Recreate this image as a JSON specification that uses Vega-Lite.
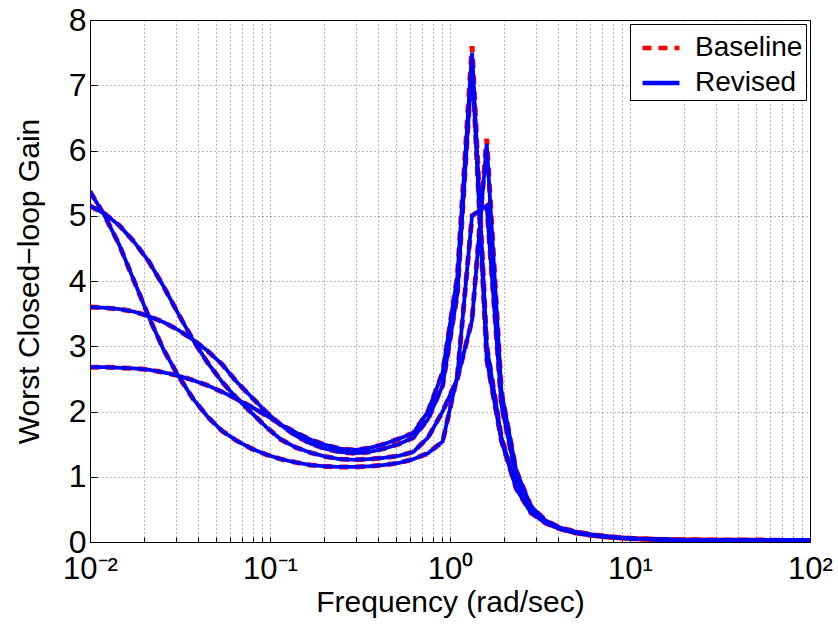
{
"$schema":"https://vega.github.io/schema/vega-lite/v6.json",
"width":720,"height":522,
"autosize":{"type":"none"},
"padding":{"left":90,"top":20,"right":28,"bottom":83},
"background":"white",
"config":{"view":{"stroke":"#000","strokeWidth":1},"font":"Liberation Sans","legend":{"strokeWidth":1}},
"data":{"values":[
{"series":"Baseline","curve":"A","f":0.01,"gain":5.37},{"series":"Baseline","curve":"A","f":0.01207,"gain":5.0},{"series":"Baseline","curve":"A","f":0.01456,"gain":4.55},{"series":"Baseline","curve":"A","f":0.01758,"gain":4.0},{"series":"Baseline","curve":"A","f":0.02121,"gain":3.45},{"series":"Baseline","curve":"A","f":0.0256,"gain":2.95},{"series":"Baseline","curve":"A","f":0.03089,"gain":2.55},{"series":"Baseline","curve":"A","f":0.03728,"gain":2.2},{"series":"Baseline","curve":"A","f":0.04498,"gain":1.92},{"series":"Baseline","curve":"A","f":0.05429,"gain":1.7},
{"series":"Baseline","curve":"A","f":0.06551,"gain":1.55},{"series":"Baseline","curve":"A","f":0.07906,"gain":1.43},{"series":"Baseline","curve":"A","f":0.09541,"gain":1.34},{"series":"Baseline","curve":"A","f":0.1151,"gain":1.27},{"series":"Baseline","curve":"A","f":0.1389,"gain":1.22},{"series":"Baseline","curve":"A","f":0.1677,"gain":1.18},{"series":"Baseline","curve":"A","f":0.2024,"gain":1.16},{"series":"Baseline","curve":"A","f":0.2442,"gain":1.15},{"series":"Baseline","curve":"A","f":0.2947,"gain":1.15},{"series":"Baseline","curve":"A","f":0.3556,"gain":1.16},
{"series":"Baseline","curve":"A","f":0.4292,"gain":1.18},{"series":"Baseline","curve":"A","f":0.5179,"gain":1.21},{"series":"Baseline","curve":"A","f":0.6251,"gain":1.27},{"series":"Baseline","curve":"A","f":0.7543,"gain":1.36},{"series":"Baseline","curve":"A","f":0.9103,"gain":1.54},{"series":"Baseline","curve":"A","f":1.0985,"gain":2.55},{"series":"Baseline","curve":"A","f":1.3257,"gain":5.0},{"series":"Baseline","curve":"A","f":1.5999,"gain":5.15},{"series":"Baseline","curve":"A","f":1.9307,"gain":2.1},{"series":"Baseline","curve":"A","f":2.33,"gain":1.0},
{"series":"Baseline","curve":"A","f":2.8118,"gain":0.5},{"series":"Baseline","curve":"A","f":3.3932,"gain":0.31},{"series":"Baseline","curve":"A","f":4.0949,"gain":0.21},{"series":"Baseline","curve":"A","f":4.9417,"gain":0.15},{"series":"Baseline","curve":"A","f":5.9636,"gain":0.11},{"series":"Baseline","curve":"A","f":7.1969,"gain":0.085},{"series":"Baseline","curve":"A","f":8.6851,"gain":0.065},{"series":"Baseline","curve":"A","f":10.481,"gain":0.05},{"series":"Baseline","curve":"A","f":12.649,"gain":0.042},{"series":"Baseline","curve":"A","f":15.264,"gain":0.037},
{"series":"Baseline","curve":"A","f":18.421,"gain":0.033},{"series":"Baseline","curve":"A","f":22.23,"gain":0.03},{"series":"Baseline","curve":"A","f":26.827,"gain":0.028},{"series":"Baseline","curve":"A","f":32.375,"gain":0.027},{"series":"Baseline","curve":"A","f":39.069,"gain":0.026},{"series":"Baseline","curve":"A","f":47.149,"gain":0.025},{"series":"Baseline","curve":"A","f":56.899,"gain":0.025},{"series":"Baseline","curve":"A","f":68.665,"gain":0.024},{"series":"Baseline","curve":"A","f":82.864,"gain":0.024},{"series":"Baseline","curve":"A","f":100,"gain":0.024},
{"series":"Baseline","curve":"B","f":0.01,"gain":5.15},{"series":"Baseline","curve":"B","f":0.01207,"gain":5.03},{"series":"Baseline","curve":"B","f":0.01456,"gain":4.85},{"series":"Baseline","curve":"B","f":0.01758,"gain":4.6},{"series":"Baseline","curve":"B","f":0.02121,"gain":4.3},{"series":"Baseline","curve":"B","f":0.0256,"gain":3.92},{"series":"Baseline","curve":"B","f":0.03089,"gain":3.5},{"series":"Baseline","curve":"B","f":0.03728,"gain":3.1},{"series":"Baseline","curve":"B","f":0.04498,"gain":2.75},{"series":"Baseline","curve":"B","f":0.05429,"gain":2.45},
{"series":"Baseline","curve":"B","f":0.06551,"gain":2.2},{"series":"Baseline","curve":"B","f":0.07906,"gain":1.98},{"series":"Baseline","curve":"B","f":0.09541,"gain":1.76},{"series":"Baseline","curve":"B","f":0.1151,"gain":1.57},{"series":"Baseline","curve":"B","f":0.1389,"gain":1.45},{"series":"Baseline","curve":"B","f":0.1677,"gain":1.37},{"series":"Baseline","curve":"B","f":0.2024,"gain":1.31},{"series":"Baseline","curve":"B","f":0.2442,"gain":1.27},{"series":"Baseline","curve":"B","f":0.2947,"gain":1.26},{"series":"Baseline","curve":"B","f":0.3556,"gain":1.27},
{"series":"Baseline","curve":"B","f":0.4292,"gain":1.29},{"series":"Baseline","curve":"B","f":0.5179,"gain":1.32},{"series":"Baseline","curve":"B","f":0.6251,"gain":1.38},{"series":"Baseline","curve":"B","f":0.7543,"gain":1.6},{"series":"Baseline","curve":"B","f":0.9103,"gain":2.0},{"series":"Baseline","curve":"B","f":1.0985,"gain":2.5},{"series":"Baseline","curve":"B","f":1.3257,"gain":3.4},{"series":"Baseline","curve":"B","f":1.5999,"gain":6.18},{"series":"Baseline","curve":"B","f":1.9307,"gain":2.3},{"series":"Baseline","curve":"B","f":2.33,"gain":1.1},
{"series":"Baseline","curve":"B","f":2.8118,"gain":0.55},{"series":"Baseline","curve":"B","f":3.3932,"gain":0.33},{"series":"Baseline","curve":"B","f":4.0949,"gain":0.22},{"series":"Baseline","curve":"B","f":4.9417,"gain":0.16},{"series":"Baseline","curve":"B","f":5.9636,"gain":0.12},{"series":"Baseline","curve":"B","f":7.1969,"gain":0.09},{"series":"Baseline","curve":"B","f":8.6851,"gain":0.07},{"series":"Baseline","curve":"B","f":10.481,"gain":0.055},{"series":"Baseline","curve":"B","f":12.649,"gain":0.045},{"series":"Baseline","curve":"B","f":15.264,"gain":0.04},
{"series":"Baseline","curve":"B","f":18.421,"gain":0.035},{"series":"Baseline","curve":"B","f":22.23,"gain":0.032},{"series":"Baseline","curve":"B","f":26.827,"gain":0.03},{"series":"Baseline","curve":"B","f":32.375,"gain":0.028},{"series":"Baseline","curve":"B","f":39.069,"gain":0.027},{"series":"Baseline","curve":"B","f":47.149,"gain":0.026},{"series":"Baseline","curve":"B","f":56.899,"gain":0.025},{"series":"Baseline","curve":"B","f":68.665,"gain":0.025},{"series":"Baseline","curve":"B","f":82.864,"gain":0.024},{"series":"Baseline","curve":"B","f":100,"gain":0.024},
{"series":"Baseline","curve":"C","f":0.01,"gain":3.6},{"series":"Baseline","curve":"C","f":0.01207,"gain":3.59},{"series":"Baseline","curve":"C","f":0.01456,"gain":3.57},{"series":"Baseline","curve":"C","f":0.01758,"gain":3.53},{"series":"Baseline","curve":"C","f":0.02121,"gain":3.46},{"series":"Baseline","curve":"C","f":0.0256,"gain":3.37},{"series":"Baseline","curve":"C","f":0.03089,"gain":3.25},{"series":"Baseline","curve":"C","f":0.03728,"gain":3.1},{"series":"Baseline","curve":"C","f":0.04498,"gain":2.93},{"series":"Baseline","curve":"C","f":0.05429,"gain":2.72},
{"series":"Baseline","curve":"C","f":0.06551,"gain":2.45},{"series":"Baseline","curve":"C","f":0.07906,"gain":2.22},{"series":"Baseline","curve":"C","f":0.09541,"gain":1.99},{"series":"Baseline","curve":"C","f":0.1151,"gain":1.79},{"series":"Baseline","curve":"C","f":0.1389,"gain":1.63},{"series":"Baseline","curve":"C","f":0.1677,"gain":1.51},{"series":"Baseline","curve":"C","f":0.2024,"gain":1.43},{"series":"Baseline","curve":"C","f":0.2442,"gain":1.38},{"series":"Baseline","curve":"C","f":0.2947,"gain":1.36},{"series":"Baseline","curve":"C","f":0.3556,"gain":1.38},
{"series":"Baseline","curve":"C","f":0.4292,"gain":1.43},{"series":"Baseline","curve":"C","f":0.5179,"gain":1.5},{"series":"Baseline","curve":"C","f":0.6251,"gain":1.6},{"series":"Baseline","curve":"C","f":0.7543,"gain":1.88},{"series":"Baseline","curve":"C","f":0.9103,"gain":2.4},{"series":"Baseline","curve":"C","f":1.0985,"gain":3.8},{"series":"Baseline","curve":"C","f":1.3257,"gain":7.35},{"series":"Baseline","curve":"C","f":1.5999,"gain":2.8},{"series":"Baseline","curve":"C","f":1.9307,"gain":1.55},{"series":"Baseline","curve":"C","f":2.33,"gain":0.82},
{"series":"Baseline","curve":"C","f":2.8118,"gain":0.45},{"series":"Baseline","curve":"C","f":3.3932,"gain":0.29},{"series":"Baseline","curve":"C","f":4.0949,"gain":0.2},{"series":"Baseline","curve":"C","f":4.9417,"gain":0.14},{"series":"Baseline","curve":"C","f":5.9636,"gain":0.105},{"series":"Baseline","curve":"C","f":7.1969,"gain":0.08},{"series":"Baseline","curve":"C","f":8.6851,"gain":0.062},{"series":"Baseline","curve":"C","f":10.481,"gain":0.05},{"series":"Baseline","curve":"C","f":12.649,"gain":0.042},{"series":"Baseline","curve":"C","f":15.264,"gain":0.036},
{"series":"Baseline","curve":"C","f":18.421,"gain":0.032},{"series":"Baseline","curve":"C","f":22.23,"gain":0.03},{"series":"Baseline","curve":"C","f":26.827,"gain":0.028},{"series":"Baseline","curve":"C","f":32.375,"gain":0.026},{"series":"Baseline","curve":"C","f":39.069,"gain":0.025},{"series":"Baseline","curve":"C","f":47.149,"gain":0.025},{"series":"Baseline","curve":"C","f":56.899,"gain":0.024},{"series":"Baseline","curve":"C","f":68.665,"gain":0.024},{"series":"Baseline","curve":"C","f":82.864,"gain":0.024},{"series":"Baseline","curve":"C","f":100,"gain":0.023},
{"series":"Baseline","curve":"D","f":0.01,"gain":2.68},{"series":"Baseline","curve":"D","f":0.01207,"gain":2.68},{"series":"Baseline","curve":"D","f":0.01456,"gain":2.67},{"series":"Baseline","curve":"D","f":0.01758,"gain":2.66},{"series":"Baseline","curve":"D","f":0.02121,"gain":2.64},{"series":"Baseline","curve":"D","f":0.0256,"gain":2.6},{"series":"Baseline","curve":"D","f":0.03089,"gain":2.55},{"series":"Baseline","curve":"D","f":0.03728,"gain":2.48},{"series":"Baseline","curve":"D","f":0.04498,"gain":2.4},{"series":"Baseline","curve":"D","f":0.05429,"gain":2.3},
{"series":"Baseline","curve":"D","f":0.06551,"gain":2.19},{"series":"Baseline","curve":"D","f":0.07906,"gain":2.07},{"series":"Baseline","curve":"D","f":0.09541,"gain":1.94},{"series":"Baseline","curve":"D","f":0.1151,"gain":1.8},{"series":"Baseline","curve":"D","f":0.1389,"gain":1.68},{"series":"Baseline","curve":"D","f":0.1677,"gain":1.57},{"series":"Baseline","curve":"D","f":0.2024,"gain":1.49},{"series":"Baseline","curve":"D","f":0.2442,"gain":1.43},{"series":"Baseline","curve":"D","f":0.2947,"gain":1.41},{"series":"Baseline","curve":"D","f":0.3556,"gain":1.44},
{"series":"Baseline","curve":"D","f":0.4292,"gain":1.5},{"series":"Baseline","curve":"D","f":0.5179,"gain":1.58},{"series":"Baseline","curve":"D","f":0.6251,"gain":1.67},{"series":"Baseline","curve":"D","f":0.7543,"gain":2.0},{"series":"Baseline","curve":"D","f":0.9103,"gain":2.6},{"series":"Baseline","curve":"D","f":1.0985,"gain":4.07},{"series":"Baseline","curve":"D","f":1.3257,"gain":7.6},{"series":"Baseline","curve":"D","f":1.5999,"gain":3.0},{"series":"Baseline","curve":"D","f":1.9307,"gain":1.6},{"series":"Baseline","curve":"D","f":2.33,"gain":0.85},
{"series":"Baseline","curve":"D","f":2.8118,"gain":0.47},{"series":"Baseline","curve":"D","f":3.3932,"gain":0.3},{"series":"Baseline","curve":"D","f":4.0949,"gain":0.2},{"series":"Baseline","curve":"D","f":4.9417,"gain":0.15},{"series":"Baseline","curve":"D","f":5.9636,"gain":0.11},{"series":"Baseline","curve":"D","f":7.1969,"gain":0.085},{"series":"Baseline","curve":"D","f":8.6851,"gain":0.065},{"series":"Baseline","curve":"D","f":10.481,"gain":0.05},{"series":"Baseline","curve":"D","f":12.649,"gain":0.042},{"series":"Baseline","curve":"D","f":15.264,"gain":0.036},
{"series":"Baseline","curve":"D","f":18.421,"gain":0.032},{"series":"Baseline","curve":"D","f":22.23,"gain":0.03},{"series":"Baseline","curve":"D","f":26.827,"gain":0.028},{"series":"Baseline","curve":"D","f":32.375,"gain":0.027},{"series":"Baseline","curve":"D","f":39.069,"gain":0.026},{"series":"Baseline","curve":"D","f":47.149,"gain":0.025},{"series":"Baseline","curve":"D","f":56.899,"gain":0.025},{"series":"Baseline","curve":"D","f":68.665,"gain":0.024},{"series":"Baseline","curve":"D","f":82.864,"gain":0.024},{"series":"Baseline","curve":"D","f":100,"gain":0.024},
{"series":"Revised","curve":"A","f":0.01,"gain":5.37},{"series":"Revised","curve":"A","f":0.01207,"gain":5.0},{"series":"Revised","curve":"A","f":0.01456,"gain":4.55},{"series":"Revised","curve":"A","f":0.01758,"gain":4.0},{"series":"Revised","curve":"A","f":0.02121,"gain":3.45},{"series":"Revised","curve":"A","f":0.0256,"gain":2.95},{"series":"Revised","curve":"A","f":0.03089,"gain":2.55},{"series":"Revised","curve":"A","f":0.03728,"gain":2.2},{"series":"Revised","curve":"A","f":0.04498,"gain":1.92},{"series":"Revised","curve":"A","f":0.05429,"gain":1.7},
{"series":"Revised","curve":"A","f":0.06551,"gain":1.55},{"series":"Revised","curve":"A","f":0.07906,"gain":1.43},{"series":"Revised","curve":"A","f":0.09541,"gain":1.34},{"series":"Revised","curve":"A","f":0.1151,"gain":1.27},{"series":"Revised","curve":"A","f":0.1389,"gain":1.22},{"series":"Revised","curve":"A","f":0.1677,"gain":1.18},{"series":"Revised","curve":"A","f":0.2024,"gain":1.16},{"series":"Revised","curve":"A","f":0.2442,"gain":1.15},{"series":"Revised","curve":"A","f":0.2947,"gain":1.15},{"series":"Revised","curve":"A","f":0.3556,"gain":1.16},
{"series":"Revised","curve":"A","f":0.4292,"gain":1.18},{"series":"Revised","curve":"A","f":0.5179,"gain":1.21},{"series":"Revised","curve":"A","f":0.6251,"gain":1.27},{"series":"Revised","curve":"A","f":0.7543,"gain":1.36},{"series":"Revised","curve":"A","f":0.9103,"gain":1.54},{"series":"Revised","curve":"A","f":1.0985,"gain":2.55},{"series":"Revised","curve":"A","f":1.3257,"gain":5.0},{"series":"Revised","curve":"A","f":1.5999,"gain":5.15},{"series":"Revised","curve":"A","f":1.9307,"gain":2.1},{"series":"Revised","curve":"A","f":2.33,"gain":1.0},
{"series":"Revised","curve":"A","f":2.8118,"gain":0.5},{"series":"Revised","curve":"A","f":3.3932,"gain":0.31},{"series":"Revised","curve":"A","f":4.0949,"gain":0.21},{"series":"Revised","curve":"A","f":4.9417,"gain":0.15},{"series":"Revised","curve":"A","f":5.9636,"gain":0.11},{"series":"Revised","curve":"A","f":7.1969,"gain":0.085},{"series":"Revised","curve":"A","f":8.6851,"gain":0.065},{"series":"Revised","curve":"A","f":10.481,"gain":0.05},{"series":"Revised","curve":"A","f":12.649,"gain":0.042},{"series":"Revised","curve":"A","f":15.264,"gain":0.037},
{"series":"Revised","curve":"A","f":18.421,"gain":0.033},{"series":"Revised","curve":"A","f":22.23,"gain":0.03},{"series":"Revised","curve":"A","f":26.827,"gain":0.028},{"series":"Revised","curve":"A","f":32.375,"gain":0.027},{"series":"Revised","curve":"A","f":39.069,"gain":0.026},{"series":"Revised","curve":"A","f":47.149,"gain":0.025},{"series":"Revised","curve":"A","f":56.899,"gain":0.025},{"series":"Revised","curve":"A","f":68.665,"gain":0.024},{"series":"Revised","curve":"A","f":82.864,"gain":0.024},{"series":"Revised","curve":"A","f":100,"gain":0.024},
{"series":"Revised","curve":"B","f":0.01,"gain":5.15},{"series":"Revised","curve":"B","f":0.01207,"gain":5.03},{"series":"Revised","curve":"B","f":0.01456,"gain":4.85},{"series":"Revised","curve":"B","f":0.01758,"gain":4.6},{"series":"Revised","curve":"B","f":0.02121,"gain":4.3},{"series":"Revised","curve":"B","f":0.0256,"gain":3.92},{"series":"Revised","curve":"B","f":0.03089,"gain":3.5},{"series":"Revised","curve":"B","f":0.03728,"gain":3.1},{"series":"Revised","curve":"B","f":0.04498,"gain":2.75},{"series":"Revised","curve":"B","f":0.05429,"gain":2.45},
{"series":"Revised","curve":"B","f":0.06551,"gain":2.2},{"series":"Revised","curve":"B","f":0.07906,"gain":1.98},{"series":"Revised","curve":"B","f":0.09541,"gain":1.76},{"series":"Revised","curve":"B","f":0.1151,"gain":1.57},{"series":"Revised","curve":"B","f":0.1389,"gain":1.45},{"series":"Revised","curve":"B","f":0.1677,"gain":1.37},{"series":"Revised","curve":"B","f":0.2024,"gain":1.31},{"series":"Revised","curve":"B","f":0.2442,"gain":1.27},{"series":"Revised","curve":"B","f":0.2947,"gain":1.26},{"series":"Revised","curve":"B","f":0.3556,"gain":1.27},
{"series":"Revised","curve":"B","f":0.4292,"gain":1.29},{"series":"Revised","curve":"B","f":0.5179,"gain":1.32},{"series":"Revised","curve":"B","f":0.6251,"gain":1.38},{"series":"Revised","curve":"B","f":0.7543,"gain":1.6},{"series":"Revised","curve":"B","f":0.9103,"gain":2.0},{"series":"Revised","curve":"B","f":1.0985,"gain":2.5},{"series":"Revised","curve":"B","f":1.3257,"gain":3.4},{"series":"Revised","curve":"B","f":1.5999,"gain":6.1},{"series":"Revised","curve":"B","f":1.9307,"gain":2.3},{"series":"Revised","curve":"B","f":2.33,"gain":1.1},
{"series":"Revised","curve":"B","f":2.8118,"gain":0.55},{"series":"Revised","curve":"B","f":3.3932,"gain":0.33},{"series":"Revised","curve":"B","f":4.0949,"gain":0.22},{"series":"Revised","curve":"B","f":4.9417,"gain":0.16},{"series":"Revised","curve":"B","f":5.9636,"gain":0.12},{"series":"Revised","curve":"B","f":7.1969,"gain":0.09},{"series":"Revised","curve":"B","f":8.6851,"gain":0.07},{"series":"Revised","curve":"B","f":10.481,"gain":0.055},{"series":"Revised","curve":"B","f":12.649,"gain":0.045},{"series":"Revised","curve":"B","f":15.264,"gain":0.04},
{"series":"Revised","curve":"B","f":18.421,"gain":0.035},{"series":"Revised","curve":"B","f":22.23,"gain":0.032},{"series":"Revised","curve":"B","f":26.827,"gain":0.03},{"series":"Revised","curve":"B","f":32.375,"gain":0.028},{"series":"Revised","curve":"B","f":39.069,"gain":0.027},{"series":"Revised","curve":"B","f":47.149,"gain":0.026},{"series":"Revised","curve":"B","f":56.899,"gain":0.025},{"series":"Revised","curve":"B","f":68.665,"gain":0.025},{"series":"Revised","curve":"B","f":82.864,"gain":0.024},{"series":"Revised","curve":"B","f":100,"gain":0.024},
{"series":"Revised","curve":"C","f":0.01,"gain":3.6},{"series":"Revised","curve":"C","f":0.01207,"gain":3.59},{"series":"Revised","curve":"C","f":0.01456,"gain":3.57},{"series":"Revised","curve":"C","f":0.01758,"gain":3.53},{"series":"Revised","curve":"C","f":0.02121,"gain":3.46},{"series":"Revised","curve":"C","f":0.0256,"gain":3.37},{"series":"Revised","curve":"C","f":0.03089,"gain":3.25},{"series":"Revised","curve":"C","f":0.03728,"gain":3.1},{"series":"Revised","curve":"C","f":0.04498,"gain":2.93},{"series":"Revised","curve":"C","f":0.05429,"gain":2.72},
{"series":"Revised","curve":"C","f":0.06551,"gain":2.45},{"series":"Revised","curve":"C","f":0.07906,"gain":2.22},{"series":"Revised","curve":"C","f":0.09541,"gain":1.99},{"series":"Revised","curve":"C","f":0.1151,"gain":1.79},{"series":"Revised","curve":"C","f":0.1389,"gain":1.63},{"series":"Revised","curve":"C","f":0.1677,"gain":1.51},{"series":"Revised","curve":"C","f":0.2024,"gain":1.43},{"series":"Revised","curve":"C","f":0.2442,"gain":1.38},{"series":"Revised","curve":"C","f":0.2947,"gain":1.36},{"series":"Revised","curve":"C","f":0.3556,"gain":1.38},
{"series":"Revised","curve":"C","f":0.4292,"gain":1.43},{"series":"Revised","curve":"C","f":0.5179,"gain":1.5},{"series":"Revised","curve":"C","f":0.6251,"gain":1.6},{"series":"Revised","curve":"C","f":0.7543,"gain":1.88},{"series":"Revised","curve":"C","f":0.9103,"gain":2.4},{"series":"Revised","curve":"C","f":1.0985,"gain":3.8},{"series":"Revised","curve":"C","f":1.3257,"gain":7.35},{"series":"Revised","curve":"C","f":1.5999,"gain":2.8},{"series":"Revised","curve":"C","f":1.9307,"gain":1.55},{"series":"Revised","curve":"C","f":2.33,"gain":0.82},
{"series":"Revised","curve":"C","f":2.8118,"gain":0.45},{"series":"Revised","curve":"C","f":3.3932,"gain":0.29},{"series":"Revised","curve":"C","f":4.0949,"gain":0.2},{"series":"Revised","curve":"C","f":4.9417,"gain":0.14},{"series":"Revised","curve":"C","f":5.9636,"gain":0.105},{"series":"Revised","curve":"C","f":7.1969,"gain":0.08},{"series":"Revised","curve":"C","f":8.6851,"gain":0.062},{"series":"Revised","curve":"C","f":10.481,"gain":0.05},{"series":"Revised","curve":"C","f":12.649,"gain":0.042},{"series":"Revised","curve":"C","f":15.264,"gain":0.036},
{"series":"Revised","curve":"C","f":18.421,"gain":0.032},{"series":"Revised","curve":"C","f":22.23,"gain":0.03},{"series":"Revised","curve":"C","f":26.827,"gain":0.028},{"series":"Revised","curve":"C","f":32.375,"gain":0.026},{"series":"Revised","curve":"C","f":39.069,"gain":0.025},{"series":"Revised","curve":"C","f":47.149,"gain":0.025},{"series":"Revised","curve":"C","f":56.899,"gain":0.024},{"series":"Revised","curve":"C","f":68.665,"gain":0.024},{"series":"Revised","curve":"C","f":82.864,"gain":0.024},{"series":"Revised","curve":"C","f":100,"gain":0.023},
{"series":"Revised","curve":"D","f":0.01,"gain":2.68},{"series":"Revised","curve":"D","f":0.01207,"gain":2.68},{"series":"Revised","curve":"D","f":0.01456,"gain":2.67},{"series":"Revised","curve":"D","f":0.01758,"gain":2.66},{"series":"Revised","curve":"D","f":0.02121,"gain":2.64},{"series":"Revised","curve":"D","f":0.0256,"gain":2.6},{"series":"Revised","curve":"D","f":0.03089,"gain":2.55},{"series":"Revised","curve":"D","f":0.03728,"gain":2.48},{"series":"Revised","curve":"D","f":0.04498,"gain":2.4},{"series":"Revised","curve":"D","f":0.05429,"gain":2.3},
{"series":"Revised","curve":"D","f":0.06551,"gain":2.19},{"series":"Revised","curve":"D","f":0.07906,"gain":2.07},{"series":"Revised","curve":"D","f":0.09541,"gain":1.94},{"series":"Revised","curve":"D","f":0.1151,"gain":1.8},{"series":"Revised","curve":"D","f":0.1389,"gain":1.68},{"series":"Revised","curve":"D","f":0.1677,"gain":1.57},{"series":"Revised","curve":"D","f":0.2024,"gain":1.49},{"series":"Revised","curve":"D","f":0.2442,"gain":1.43},{"series":"Revised","curve":"D","f":0.2947,"gain":1.41},{"series":"Revised","curve":"D","f":0.3556,"gain":1.44},
{"series":"Revised","curve":"D","f":0.4292,"gain":1.5},{"series":"Revised","curve":"D","f":0.5179,"gain":1.58},{"series":"Revised","curve":"D","f":0.6251,"gain":1.67},{"series":"Revised","curve":"D","f":0.7543,"gain":2.0},{"series":"Revised","curve":"D","f":0.9103,"gain":2.6},{"series":"Revised","curve":"D","f":1.0985,"gain":4.07},{"series":"Revised","curve":"D","f":1.3257,"gain":7.5},{"series":"Revised","curve":"D","f":1.5999,"gain":3.0},{"series":"Revised","curve":"D","f":1.9307,"gain":1.6},{"series":"Revised","curve":"D","f":2.33,"gain":0.85},
{"series":"Revised","curve":"D","f":2.8118,"gain":0.47},{"series":"Revised","curve":"D","f":3.3932,"gain":0.3},{"series":"Revised","curve":"D","f":4.0949,"gain":0.2},{"series":"Revised","curve":"D","f":4.9417,"gain":0.15},{"series":"Revised","curve":"D","f":5.9636,"gain":0.11},{"series":"Revised","curve":"D","f":7.1969,"gain":0.085},{"series":"Revised","curve":"D","f":8.6851,"gain":0.065},{"series":"Revised","curve":"D","f":10.481,"gain":0.05},{"series":"Revised","curve":"D","f":12.649,"gain":0.042},{"series":"Revised","curve":"D","f":15.264,"gain":0.036},
{"series":"Revised","curve":"D","f":18.421,"gain":0.032},{"series":"Revised","curve":"D","f":22.23,"gain":0.03},{"series":"Revised","curve":"D","f":26.827,"gain":0.028},{"series":"Revised","curve":"D","f":32.375,"gain":0.027},{"series":"Revised","curve":"D","f":39.069,"gain":0.026},{"series":"Revised","curve":"D","f":47.149,"gain":0.025},{"series":"Revised","curve":"D","f":56.899,"gain":0.025},{"series":"Revised","curve":"D","f":68.665,"gain":0.024},{"series":"Revised","curve":"D","f":82.864,"gain":0.024},{"series":"Revised","curve":"D","f":100,"gain":0.024}
]},
"encoding":{
"x":{"field":"f","type":"quantitative","scale":{"type":"log","domain":[0.01,100],"nice":false},
"axis":{"values":[0.01,0.02,0.03,0.04,0.05,0.06,0.07,0.08,0.09,0.1,0.2,0.3,0.4,0.5,0.6,0.7,0.8,0.9,1,2,3,4,5,6,7,8,9,10,20,30,40,50,60,70,80,90,100],
"labelExpr":"datum.value == 0.01 ? '10⁻²' : datum.value == 0.1 ? '10⁻¹' : datum.value == 1 ? '10⁰' : datum.value == 10 ? '10¹' : datum.value == 100 ? '10²' : ''",
"title":"Frequency (rad/sec)","titleFontSize":30,"titleFontWeight":"normal","titleColor":"#000","titlePadding":3,
"labelFontSize":31,"labelColor":"#000","labelPadding":17,"labelFlush":false,"labelOverlap":false,
"grid":true,"gridColor":"#000","gridOpacity":0.55,"gridDash":[1,3],"gridWidth":1,
"ticks":true,"tickSize":-5,"tickColor":"#000","domainColor":"#000","domainWidth":1}},
"y":{"field":"gain","type":"quantitative","scale":{"domain":[0,8],"nice":false,"zero":false},
"axis":{"values":[0,1,2,3,4,5,6,7,8],"title":"Worst Closed−loop Gain","titleFontSize":30,"titleFontWeight":"normal","titleColor":"#000","titlePadding":24,
"labelFontSize":32,"labelColor":"#000","labelPadding":11,
"grid":true,"gridColor":"#000","gridOpacity":0.55,"gridDash":[1,3],"gridWidth":1,
"ticks":true,"tickSize":-7,"tickColor":"#000","domainColor":"#000","domainWidth":1}},
"detail":{"field":"curve"},
"color":{"field":"series","type":"nominal","scale":{"domain":["Baseline","Revised"],"range":["#FF0000","#0000FF"]},
"legend":{"orient":"none","legendX":540,"legendY":4,"title":null,"symbolType":"stroke","symbolSize":1369,"symbolStrokeWidth":4.5,"symbolOffset":7,"labelFontSize":28,"labelColor":"#000","labelFont":"Liberation Sans","labelExpr":"datum.label + ' '","strokeColor":"#000","fillColor":"#fff","padding":3,"rowPadding":0,"labelOffset":13,"cornerRadius":0}},
"strokeDash":{"field":"series","type":"nominal","scale":{"domain":["Baseline","Revised"],"range":[[9,7],[1,0]]},"legend":{"orient":"none","legendX":540,"legendY":4,"title":null}}
},
"layer":[
{"transform":[{"filter":"datum.series == 'Baseline'"}],"mark":{"type":"line","strokeWidth":5,"clip":true}},
{"transform":[{"filter":"datum.series == 'Revised'"}],"mark":{"type":"line","strokeWidth":3.8,"clip":true}}
]
}
